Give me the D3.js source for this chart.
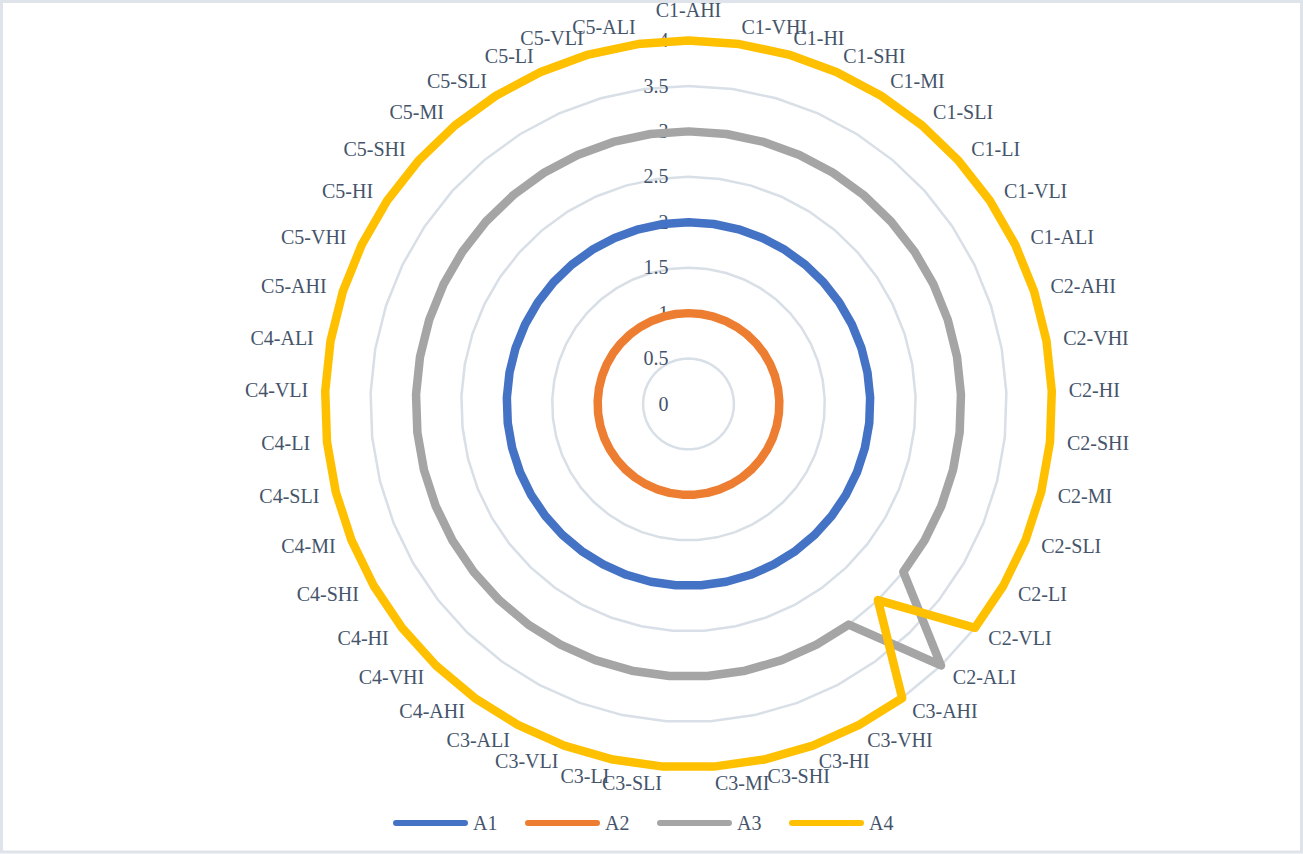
<!DOCTYPE html>
<html><head><meta charset="utf-8">
<script src="https://cdn.jsdelivr.net/npm/d3@7"></script>
<style>html,body{margin:0;padding:0;background:#fff;} svg{display:block;}</style>
</head><body>
<svg id="chart" width="1303" height="854"></svg>
<script>
const categories = [
  "C1-AHI","C1-VHI","C1-HI","C1-SHI","C1-MI","C1-SLI","C1-LI","C1-VLI","C1-ALI",
  "C2-AHI","C2-VHI","C2-HI","C2-SHI","C2-MI","C2-SLI","C2-LI","C2-VLI","C2-ALI",
  "C3-AHI","C3-VHI","C3-HI","C3-SHI","C3-MI","C3-SLI","C3-LI","C3-VLI","C3-ALI",
  "C4-AHI","C4-VHI","C4-HI","C4-SHI","C4-MI","C4-SLI","C4-LI","C4-VLI","C4-ALI",
  "C5-AHI","C5-VHI","C5-HI","C5-SHI","C5-MI","C5-SLI","C5-LI","C5-VLI","C5-ALI"
];
const seriesNames = ["A1","A2","A3","A4"];
const valuesA1 = [2,2,2,2,2,2,2,2,2, 2,2,2,2,2,2,2,2,2, 2,2,2,2,2,2,2,2,2, 2,2,2,2,2,2,2,2,2, 2,2,2,2,2,2,2,2,2];
const valuesA2 = [1,1,1,1,1,1,1,1,1, 1,1,1,1,1,1,1,1,1, 1,1,1,1,1,1,1,1,1, 1,1,1,1,1,1,1,1,1, 1,1,1,1,1,1,1,1,1];
const valuesA3 = [3,3,3,3,3,3,3,3,3, 3,3,3,3,3,3,3,3,4, 3,3,3,3,3,3,3,3,3, 3,3,3,3,3,3,3,3,3, 3,3,3,3,3,3,3,3,3];
const valuesA4 = [4,4,4,4,4,4,4,4,4, 4,4,4,4,4,4,4,4,3, 4,4,4,4,4,4,4,4,4, 4,4,4,4,4,4,4,4,4, 4,4,4,4,4,4,4,4,4];
const tickValues = [0,0.5,1,1.5,2,2.5,3,3.5,4];
const tickLabels = ["0","0.5","1","1.5","2","2.5","3","3.5","4"];
const seriesColors = ["#4472C4","#ED7D31","#A5A5A5","#FFC000"];

const series = seriesNames.map((name,i)=>({name, values:[valuesA1,valuesA2,valuesA3,valuesA4][i], color:seriesColors[i]}));

const cx = 688.5, cy = 404, R = 363.5;
const textColor = "#44546A";
const font = "'Liberation Serif','Times New Roman',serif";
const fs = 20;
const svg = d3.select("#chart");
svg.append("rect").attr("x",1.5).attr("y",1.5).attr("width",1300).attr("height",850.5)
  .attr("fill","#fff").attr("stroke","#dfe3ea").attr("stroke-width",3);

const n = categories.length;
const angle = d3.scaleLinear().domain([0,n]).range([0,2*Math.PI]);
const r = d3.scaleLinear().domain([0,4]).range([0,R]);
const g = svg.append("g").attr("transform",`translate(${cx},${cy})`);

// grid
const gridLine = d3.lineRadial().angle((d,i)=>angle(i)).radius(d=>r(d)).curve(d3.curveLinearClosed);
tickValues.filter(v=>v>0).forEach(v=>{
  g.append("path").attr("d", gridLine(categories.map(()=>v)))
    .attr("fill","none").attr("stroke","#d9dfe7").attr("stroke-width",2.5);
});

// tick labels
g.selectAll("text.tick").data(tickValues).join("text")
  .attr("class","tick")
  .attr("x",-20).attr("y",d=>-r(d)).attr("dy","0.33em")
  .attr("text-anchor","end")
  .attr("font-family",font).attr("font-size",fs).attr("fill",textColor)
  .text((d,i)=>tickLabels[i]);

// series
const line = d3.lineRadial().angle((d,i)=>angle(i)).radius(d=>r(d)).curve(d3.curveLinearClosed);
series.forEach(s=>{
  g.append("path").attr("d", line(s.values))
    .attr("fill","none").attr("stroke",s.color).attr("stroke-width",8.5)
    .attr("stroke-linejoin","round");
});

// category labels
const off = 17;
categories.forEach((c,i)=>{
  const a = angle(i);
  const s = Math.sin(a), co = Math.cos(a);
  const px = (R+off)*s, py = -(R+off)*co;
  let anchor = "middle", y = py;
  if (Math.abs(s) < 1e-6) { anchor = "middle"; y = co > 0 ? py - 13 : py + 13; }
  else anchor = s > 0 ? "start" : "end";
  g.append("text").attr("x",px).attr("y",y).attr("dy","0.33em")
    .attr("text-anchor",anchor)
    .attr("font-family",font).attr("font-size",fs).attr("fill",textColor)
    .text(c);
});

// legend
const legend = svg.append("g");
series.forEach((s,i)=>{
  const x0 = 393 + i*132;
  legend.append("line").attr("x1",x0+3).attr("x2",x0+72).attr("y1",823).attr("y2",823)
    .attr("stroke",s.color).attr("stroke-width",6).attr("stroke-linecap","round");
  legend.append("text").attr("x",x0+80).attr("y",823).attr("dy","0.33em")
    .attr("font-family",font).attr("font-size",fs).attr("fill",textColor).text(s.name);
});
</script>
</body></html>
